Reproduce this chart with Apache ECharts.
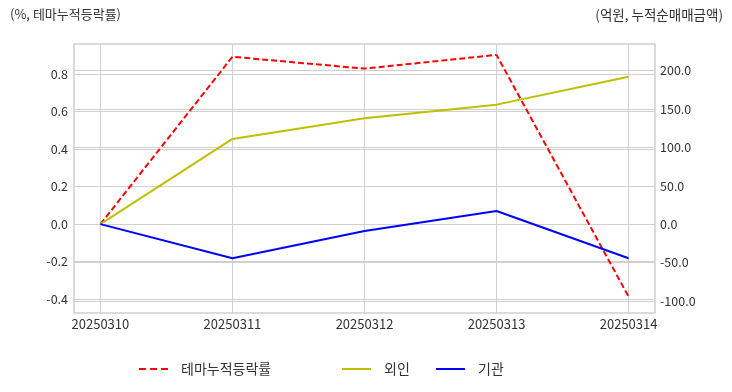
<!DOCTYPE html>
<html><head><meta charset="utf-8">
<script src="https://cdn.jsdelivr.net/npm/echarts@6/dist/echarts.min.js"></script>
<style>html,body{margin:0;padding:0;background:#fff}#c{width:732px;height:392px}</style>
</head><body><div id="c"></div>
<script>
const categories = ['20250310','20250311','20250312','20250313','20250314'];
const themeRate = [0, 0.891, 0.828, 0.901, -0.386];
const foreign = [0, 111.0, 137.9, 155.7, 191.9];
const institution = [0, -44.4, -8.9, 17.1, -44.4];
const leftTicks = [-0.4, -0.2, 0.0, 0.2, 0.4, 0.6, 0.8];
const rightTicks = [-100, -50, 0, 50, 100, 150, 200];
const xTicks = [0, 1, 2, 3, 4];
const names = ['테마누적등락률', '외인', '기관'];

const FONT = '"Noto Sans CJK KR", "Noto Sans", sans-serif';
const pair = arr => arr.map((v, i) => [i, v]);
const chart = echarts.init(document.getElementById('c'), null, {renderer: 'canvas'});
const legendBase = {
  top: 357, itemWidth: 29, itemHeight: 14, itemGap: 0,
  itemStyle: {opacity: 0},
  textStyle: {fontFamily: FONT, fontSize: 14, color: '#333', padding: [0, 0, 0, 8]}
};
chart.setOption({
  animation: false,
  grid: {left: 74, right: 77, top: 44, bottom: 79, show: true, borderColor: '#d0d0d0', borderWidth: 1.5, containLabel: false},
  graphic: [
    {type: 'text', left: 10, top: 8, style: {text: '(%, 테마누적등락률)', font: '13px ' + FONT, fill: '#333'}},
    {type: 'text', right: 9, top: 8, style: {text: '(억원, 누적순매매금액)', font: '13.5px ' + FONT, fill: '#333'}}
  ],
  legend: [
    Object.assign({}, legendBase, {left: 133, data: [names[0]], lineStyle: {type: [7, 4], width: 2}}),
    Object.assign({}, legendBase, {left: 336, data: [names[1]]}),
    Object.assign({}, legendBase, {left: 430, data: [names[2]]})
  ],
  xAxis: {
    type: 'value', min: -0.2, max: 4.2,
    axisLine: {show: false},
    axisTick: {show: false, customValues: xTicks},
    axisLabel: {customValues: xTicks, formatter: v => categories[Math.round(v)], fontFamily: FONT, fontSize: 13, color: '#333', margin: 5},
    splitLine: {show: true, lineStyle: {color: '#d0d0d0', width: 1}}
  },
  yAxis: [
    {
      type: 'value', min: -0.473, max: 0.959, position: 'left',
      axisLine: {show: false},
      axisTick: {show: false, customValues: leftTicks},
      axisLabel: {customValues: leftTicks, formatter: v => v.toFixed(1), fontFamily: FONT, fontSize: 12.5, color: '#333', margin: 6},
      splitLine: {show: true, lineStyle: {color: '#d0d0d0', width: 1}}
    },
    {
      type: 'value', min: -115.8, max: 234.7, position: 'right',
      axisLine: {show: false},
      axisTick: {show: false, customValues: rightTicks},
      axisLabel: {customValues: rightTicks, formatter: v => v.toFixed(1), fontFamily: FONT, fontSize: 12.5, color: '#333', margin: 5},
      splitLine: {show: true, lineStyle: {color: '#d0d0d0', width: 1}}
    }
  ],
  series: [
    {name: names[0], type: 'line', yAxisIndex: 0, data: pair(themeRate), symbol: 'none',
     lineStyle: {color: '#ff0000', width: 2, type: [6, 3]}, itemStyle: {color: '#ff0000'}},
    {name: names[1], type: 'line', yAxisIndex: 1, data: pair(foreign), symbol: 'none',
     lineStyle: {color: '#bfbf00', width: 2}, itemStyle: {color: '#bfbf00'}},
    {name: names[2], type: 'line', yAxisIndex: 1, data: pair(institution), symbol: 'none',
     lineStyle: {color: '#0000ff', width: 2}, itemStyle: {color: '#0000ff'}}
  ]
});
</script></body></html>
